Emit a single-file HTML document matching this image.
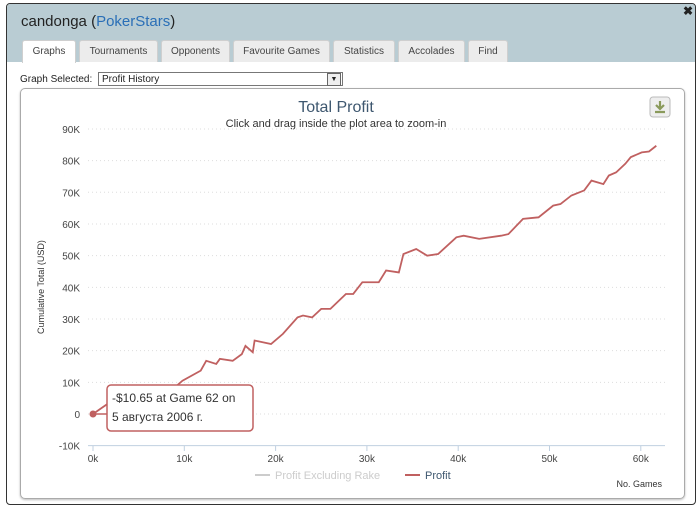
<!DOCTYPE html>
<html><head><meta charset="utf-8"><style>
body{margin:0;width:700px;height:517px;background:#fff;font-family:"Liberation Sans",sans-serif;position:relative;overflow:hidden}
.abs{position:absolute}
.tab{position:absolute;top:40px;height:21px;background:#ececec;border:1px solid #cfcfcf;border-bottom:none;border-radius:3px 3px 0 0;font-size:10px;color:#444;text-align:center;line-height:21px}
</style></head><body>
<div class="abs" style="left:6px;top:3px;width:688px;height:500px;border:1px solid #333;border-radius:4px;background:#fff"></div>
<div class="abs" style="left:7px;top:4px;width:688px;height:58px;background:#b9ccd3;border-radius:3px 3px 0 0"></div>
<div class="abs" style="left:683px;top:4px;font-size:12px;font-weight:bold;color:#222">✖</div>
<div class="abs" style="left:21px;top:13px;font-size:15px;color:#222">candonga (<span style="color:#2a6fb7">PokerStars</span>)</div>
<div class="tab" style="left:22px;width:52px;background:#fff;height:22px">Graphs</div>
<div class="tab" style="left:79px;width:77px">Tournaments</div>
<div class="tab" style="left:161px;width:67px">Opponents</div>
<div class="tab" style="left:233px;width:95px">Favourite Games</div>
<div class="tab" style="left:333px;width:60px">Statistics</div>
<div class="tab" style="left:398px;width:65px">Accolades</div>
<div class="tab" style="left:468px;width:38px">Find</div>
<div class="abs" style="left:20px;top:74px;font-size:10px;color:#222">Graph Selected:</div>
<div class="abs" style="left:98px;top:72px;width:245px;height:14px;border:1px solid #777;font-size:10px;line-height:14px;color:#222;box-sizing:border-box;padding-left:3px">Profit History<span style="position:absolute;right:1px;top:0px;width:12px;height:11px;border:1px solid #666;background:#eee;font-size:7px;line-height:11px;text-align:center">▼</span></div>
<div class="abs" style="left:20px;top:88px;width:663px;height:409px;border:1px solid #aaa;border-radius:5px;box-shadow:0 1px 2px #bbb"></div>
<svg class="abs" style="left:0;top:0" width="700" height="517" id="chart">
<text x="336" y="112" text-anchor="middle" font-size="16" fill="#3e576f">Total Profit</text>
<text x="336" y="127" text-anchor="middle" font-size="11" fill="#333">Click and drag inside the plot area to zoom-in</text>
<g><rect x="650" y="97" width="20" height="20" rx="3" fill="#eee" stroke="#bbb"/><path d="M660 101v8M656 105l4 4 4-4M655 112h10" stroke="#8a9a5b" stroke-width="2.2" fill="none"/></g>
<text transform="translate(44,287) rotate(-90)" text-anchor="middle" font-size="9" fill="#333">Cumulative Total (USD)</text>
<text x="662" y="487" text-anchor="end" font-size="9" fill="#333">No. Games</text>
<g id="grid"></g><g id="series"></g>
<g>
<g><line x1="255" y1="475" x2="270" y2="475" stroke="#ccc" stroke-width="2"/><text x="275" y="479" font-size="11" fill="#ccc">Profit Excluding Rake</text></g>
<g><line x1="405" y1="475" x2="420" y2="475" stroke="#c06060" stroke-width="2"/><text x="425" y="479" font-size="11" fill="#3e576f">Profit</text></g>
</g>
<g><rect x="107" y="385" width="146" height="46" rx="4" fill="#fff" stroke="#c06060" stroke-width="1.5"/>
<text x="112" y="402" font-size="12" fill="#333">-$10.65 at Game 62 on</text>
<text x="112" y="421" font-size="12" fill="#333">5 августа 2006 г.</text></g>
</svg>
<script>
const games=[0,1,2,4,6,8,9,9.8,11.8,12.4,13.5,13.9,15.3,16.3,16.7,17.5,17.7,19.5,20.8,22.4,23.0,24.0,25.0,26.0,27.7,28.5,29.5,31.3,32.1,33.5,34.0,35.4,36.6,37.8,39.8,40.6,42.3,44.7,45.5,47.1,48.8,50.4,51.2,52.4,53.8,54.6,55.9,56.5,57.3,58.3,58.9,60.1,60.9,61.7];
const profit=[0,2,4,6,7.5,8,8.5,10.5,13.7,16.8,15.8,17.4,16.8,18.9,21.5,19.5,23.2,22.1,25.3,30.5,31.1,30.5,33.2,33.2,37.9,37.9,41.6,41.6,45.3,44.7,50.5,52.1,50.0,50.5,55.8,56.3,55.3,56.3,56.8,61.6,62.1,65.8,66.3,69.0,70.6,73.7,72.6,75.3,76.3,79.0,81.1,82.6,82.9,84.7];
const yTicks=[-10,0,10,20,30,40,50,60,70,80,90];
const xTicks=[0,10,20,30,40,50,60];
const X=v=>93+v*9.13, Y=v=>414-v*3.167;
const NS="http://www.w3.org/2000/svg";
const grid=document.getElementById('grid'), ser=document.getElementById('series');
function mk(t,a,p){const e=document.createElementNS(NS,t);for(const k in a)e.setAttribute(k,a[k]);p.appendChild(e);return e;}
yTicks.forEach(v=>{
 const l=mk('line',{x1:88,x2:665,y1:Y(v),y2:Y(v),stroke:v===-10?'#c0d0e0':'#ddd','stroke-dasharray':v===-10?'':'1,3'},grid);
 
 
 const t=mk('text',{x:80,y:Y(v)+4,'text-anchor':'end','font-size':10,fill:'#444'},grid);
 t.textContent=v===0?'0':v+'K';
 
 
});
xTicks.forEach(v=>{
 mk('line',{x1:X(v),x2:X(v),y1:446,y2:451,stroke:'#c0d0e0'},grid);
 const t=mk('text',{x:X(v),y:462,'text-anchor':'middle','font-size':10,fill:'#444'},grid);
 t.textContent=v+'k';
 
 
});
const p=mk('path',{d:games.map((g,i)=>(i?'L':'M')+X(g)+' '+Y(profit[i])).join(''),fill:'none',stroke:'#c06060','stroke-width':1.8},ser);


const d=mk('circle',{cx:X(games[0]),cy:Y(profit[0]),r:3.5,fill:'#c06060'},ser);


mk('line',{x1:X(games[0]),y1:Y(0),x2:107,y2:Y(0),stroke:'#c06060','stroke-width':1.5},ser);
</script>
</body></html>
